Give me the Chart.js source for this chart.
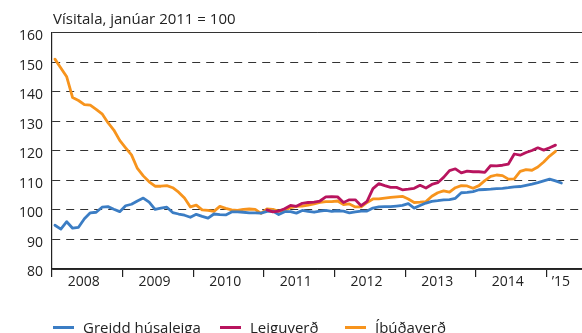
<!DOCTYPE html>
<html lang="is">
<head>
<meta charset="UTF-8">
<title>Leiguverð og íbúðaverð</title>
<script src="https://cdn.jsdelivr.net/npm/chart.js"></script>
<style>
  body { margin: 0; background: #fff; }
  #wrap { position: relative; width: 582px; height: 333px; }
  #legend { position: absolute; left: 0; top: 317px; width: 582px; height: 20px;
            font-family: "Open Sans", sans-serif; font-size: 15px; color: #222; }
  .item { position: absolute; top: 0; height: 20px; display: flex; align-items: center; white-space: nowrap; }
  .item i { display: inline-block; width: 21px; height: 3px; margin-right: 9px; }
</style>
</head>
<body>
<div id="wrap">
  <canvas id="chart" width="582" height="333"></canvas>
  <div id="legend"></div>
</div>
<script>
// monthly index values, January 2011 = 100
var yearLabels = ['2008', '2009', '2010', '2011', '2012', '2013', '2014', '\u201915'];
var seriesNames = ['Greidd húsaleiga', 'Leiguverð', 'Íbúðaverð'];

// Greidd húsaleiga, Jan 2008 - Mar 2015
var greiddHusaleiga = [
  94.8, 93.5, 96.0, 93.8, 94.1, 97.0, 99.0, 99.2, 100.9, 101.1, 100.2, 99.4,
  101.4, 101.9, 103.0, 104.0, 102.6, 100.2, 100.6, 100.9, 99.1, 98.6, 98.2, 97.5,
  98.5, 97.8, 97.2, 98.6, 98.4, 98.3, 99.3, 99.3, 99.2, 99.0, 99.0, 98.9,
  99.5, 99.6, 98.4, 99.4, 99.4, 98.9, 99.8, 99.5, 99.2, 99.6, 99.8, 99.5,
  99.7, 99.6, 99.0, 99.3, 99.6, 99.6, 100.6, 101.0, 101.1, 101.1, 101.3, 101.5,
  102.1, 100.6, 101.5, 102.3, 102.9, 103.1, 103.4, 103.5, 103.9, 105.8, 105.9, 106.2,
  106.8, 106.9, 107.0, 107.2, 107.3, 107.5, 107.8, 107.9, 108.3, 108.7, 109.2, 109.8,
  110.4, 109.8, 109.1
];
var husaleigaStart = 0;

// Leiguverð, Jan 2011 - Feb 2015
var leiguverd = [
  100.0, 99.3, 99.6, 100.4, 101.5, 101.2, 102.2, 102.5, 102.6, 103.0, 104.4, 104.5,
  104.4, 102.5, 103.4, 103.4, 101.4, 102.9, 107.2, 108.9, 108.2, 107.6, 107.6, 106.8,
  107.0, 107.3, 108.3, 107.4, 108.6, 109.2, 111.0, 113.3, 113.9, 112.5, 113.1, 112.9,
  112.9, 112.7, 115.0, 114.9, 115.1, 115.5, 118.9, 118.5, 119.4, 120.1, 121.0, 120.2,
  121.0, 121.9
];
var leiguverdStart = 36;

// Íbúðaverð, Jan 2008 - Feb 2015
var ibudaverd = [
  151.0, 148.0, 145.0, 138.0, 137.0, 135.6, 135.4, 134.0, 132.5, 129.5, 127.0, 123.5,
  121.0, 118.6, 114.0, 111.5, 109.5, 108.0, 108.0, 108.2, 107.5, 106.0, 104.0, 101.0,
  101.6, 100.0, 99.8, 99.5, 101.2, 100.5, 100.0, 99.8, 100.2, 100.3, 100.2, 98.8,
  100.3, 100.2, 99.5, 99.8, 100.8, 101.2, 101.3, 101.6, 102.0, 102.5, 102.8, 102.8,
  103.0, 101.8, 102.0, 101.0, 101.0, 102.5, 103.7, 103.7, 104.0, 104.2, 104.4, 104.6,
  103.7, 102.5, 102.6, 102.8, 104.6, 105.8, 106.4, 106.0, 107.5, 108.2, 108.1, 107.3,
  108.2, 109.9, 111.3, 111.8, 111.6, 110.4, 110.5, 113.0, 113.6, 113.4, 114.5, 116.2,
  118.2, 119.8
];
var ibudaverdStart = 0;

var colors = ['#3b7dc4', '#b8145e', '#f7941d'];

// months counted from January 2008, each value sits mid-month
function toPoints(values, start) {
  return values.map(function (v, i) { return { x: start + i + 0.5, y: v }; });
}

var yearTicks = [0, 12, 24, 36, 48, 60, 72, 84];
var labelPos = [6, 18, 30, 42, 54, 66, 78, 87];

// axis title above the plot, flush with the y axis
var titlePlugin = {
  id: 'axisTitle',
  afterDraw: function (chart) {
    var ctx = chart.ctx;
    ctx.save();
    ctx.font = '15px "Open Sans"';
    ctx.fillStyle = '#222';
    ctx.textBaseline = 'alphabetic';
    ctx.fillText('Vísitala, janúar 2011 = 100', chart.chartArea.left + 1, 23.5);
    ctx.restore();
  }
};

var ctx = document.getElementById('chart').getContext('2d');
var myChart = new Chart(ctx, {
  type: 'line',
  data: {
    datasets: [{
      label: seriesNames[0],
      data: toPoints(greiddHusaleiga, husaleigaStart),
      borderColor: colors[0],
      backgroundColor: colors[0],
      order: 1
    }, {
      label: seriesNames[1],
      data: toPoints(leiguverd, leiguverdStart),
      borderColor: colors[1],
      backgroundColor: colors[1],
      order: 0
    }, {
      label: seriesNames[2],
      data: toPoints(ibudaverd, ibudaverdStart),
      borderColor: colors[2],
      backgroundColor: colors[2],
      order: 2
    }]
  },
  options: {
    responsive: false,
    animation: false,
    layout: { padding: { top: 32.5, right: 0, bottom: 0, left: 0 } },
    elements: {
      line: { borderWidth: 2.8, tension: 0, borderJoinStyle: 'round', borderCapStyle: 'round' },
      point: { radius: 0 }
    },
    plugins: {
      legend: { display: false },
      tooltip: { enabled: false }
    },
    scales: {
      x: {
        type: 'linear',
        min: 0,
        max: 90,
        afterFit: function (scale) { scale.height = 64; },
        afterBuildTicks: function (scale) {
          var t = [];
          yearTicks.forEach(function (v) { t.push({ value: v }); });
          labelPos.forEach(function (v) { t.push({ value: v }); });
          t.push({ value: 90 });
          t.sort(function (a, b) { return a.value - b.value; });
          scale.ticks = t;
        },
        ticks: {
          autoSkip: false,
          maxRotation: 0,
          padding: -3,
          labelOffset: -3.5,
          color: '#222',
          font: { family: 'Open Sans', size: 14 },
          callback: function (value) {
            var k = labelPos.indexOf(value);
            return k >= 0 ? yearLabels[k] : '';
          }
        },
        grid: {
          drawOnChartArea: false,
          tickLength: 8,
          lineWidth: 1.2,
          color: function (c) {
            return c.tick && yearTicks.indexOf(c.tick.value) >= 0 ? '#222' : 'rgba(0,0,0,0)';
          }
        },
        border: { display: true, color: '#222', width: 1.2 }
      },
      y: {
        min: 80,
        max: 160,
        afterFit: function (scale) { scale.width = 52; },
        ticks: {
          stepSize: 10,
          padding: 9,
          labelOffset: 3.5,
          color: '#222',
          font: { family: 'Open Sans', size: 14 }
        },
        grid: {
          drawTicks: false,
          color: '#333',
          lineWidth: 1
        },
        border: {
          display: true,
          color: '#222',
          width: 1.2,
          dash: function (c) {
            var v = c.tick ? c.tick.value : null;
            return (v === 160 || v === 80) ? [] : [8, 6];
          }
        }
      }
    }
  },
  plugins: [titlePlugin]
});

// legend row below the axis
var legendLeft = [53, 220, 345];
var legend = document.getElementById('legend');
seriesNames.forEach(function (name, i) {
  var item = document.createElement('div');
  item.className = 'item';
  item.style.left = legendLeft[i] + 'px';
  var sw = document.createElement('i');
  sw.style.background = colors[i];
  item.appendChild(sw);
  item.appendChild(document.createTextNode(name));
  legend.appendChild(item);
});
</script>
</body>
</html>
